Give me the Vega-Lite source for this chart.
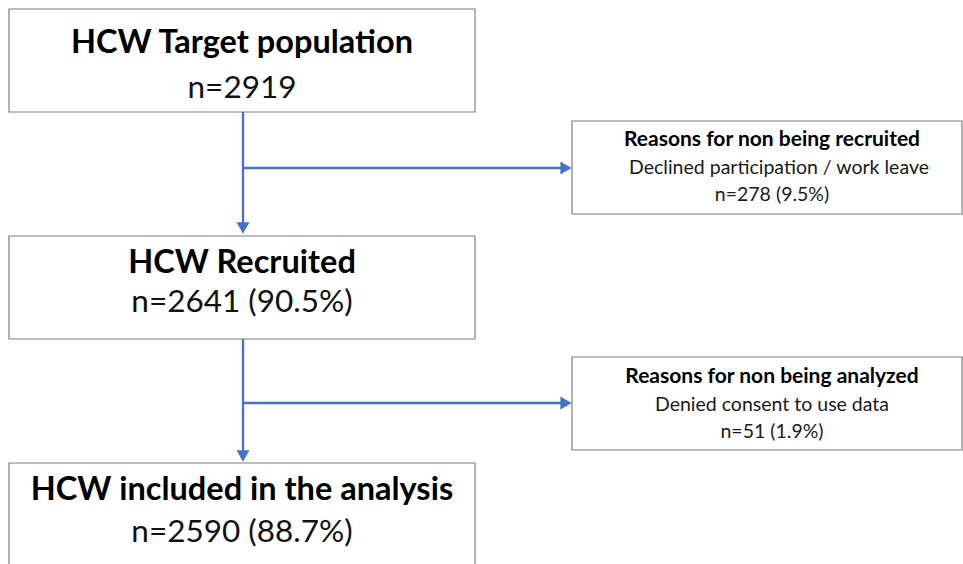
{
  "$schema": "https://vega.github.io/schema/vega-lite/v6.json",
  "width": 963,
  "height": 564,
  "autosize": {"type": "fit", "contains": "padding"},
  "padding": 0,
  "background": "white",
  "config": {"view": {"stroke": null}},
  "datasets": {
    "boxes": [
      {"name": "target", "x1": 9, "x2": 475, "y1": 9, "y2": 112},
      {"name": "recruited", "x1": 9, "x2": 475, "y1": 236, "y2": 339},
      {"name": "analysis", "x1": 9, "x2": 475, "y1": 463, "y2": 600},
      {"name": "notrecruited", "x1": 572, "x2": 962, "y1": 121, "y2": 214},
      {"name": "notanalyzed", "x1": 572, "x2": 962, "y1": 357, "y2": 450}
    ],
    "links": [
      {"x1": 243, "y1": 112, "x2": 243, "y2": 228},
      {"x1": 243, "y1": 168, "x2": 566, "y2": 168},
      {"x1": 243, "y1": 339, "x2": 243, "y2": 456},
      {"x1": 243, "y1": 403, "x2": 566, "y2": 403}
    ],
    "heads": [
      {"x": 243, "y": 228, "dir": "down"},
      {"x": 566, "y": 168, "dir": "right"},
      {"x": 243, "y": 456, "dir": "down"},
      {"x": 566, "y": 403, "dir": "right"}
    ],
    "labels": [
      {"x": 242, "y": 43, "text": "HCW Target population", "kind": "main-title"},
      {"x": 242, "y": 89, "text": "n=2919", "kind": "main-count"},
      {"x": 242, "y": 263, "text": "HCW Recruited", "kind": "main-title"},
      {"x": 242, "y": 303, "text": "n=2641 (90.5%)", "kind": "main-count"},
      {"x": 242, "y": 490, "text": "HCW included in the analysis", "kind": "main-title"},
      {"x": 242, "y": 533, "text": "n=2590 (88.7%)", "kind": "main-count"},
      {"x": 772, "y": 140, "text": "Reasons for non being recruited", "kind": "side-title"},
      {"x": 779, "y": 168, "text": "Declined participation / work leave", "kind": "side-text"},
      {"x": 772, "y": 195, "text": "n=278 (9.5%)", "kind": "side-text"},
      {"x": 772, "y": 377, "text": "Reasons for non being analyzed", "kind": "side-title"},
      {"x": 772, "y": 405, "text": "Denied consent to use data", "kind": "side-text"},
      {"x": 772, "y": 432, "text": "n=51 (1.9%)", "kind": "side-text"}
    ]
  },
  "layer": [
    {
      "data": {"name": "boxes"},
      "mark": {"type": "rect", "fill": "white", "stroke": "#7f7f7f", "strokeWidth": 1.2, "clip": true},
      "encoding": {
        "x": {"field": "x1", "type": "quantitative", "scale": {"domain": [0, 963], "nice": false, "zero": false}, "axis": null},
        "x2": {"field": "x2"},
        "y": {"field": "y1", "type": "quantitative", "scale": {"domain": [0, 564], "nice": false, "zero": false, "reverse": true}, "axis": null},
        "y2": {"field": "y2"}
      }
    },
    {
      "data": {"name": "links"},
      "mark": {"type": "rule", "color": "#4472C4", "strokeWidth": 2.3},
      "encoding": {
        "x": {"field": "x1", "type": "quantitative"},
        "x2": {"field": "x2"},
        "y": {"field": "y1", "type": "quantitative"},
        "y2": {"field": "y2"}
      }
    },
    {
      "data": {"name": "heads"},
      "mark": {"type": "point", "filled": true, "color": "#4472C4", "opacity": 1, "size": 170},
      "encoding": {
        "x": {"field": "x", "type": "quantitative"},
        "y": {"field": "y", "type": "quantitative"},
        "shape": {"field": "dir", "type": "nominal", "scale": {"domain": ["down", "right"], "range": ["triangle-down", "triangle-right"]}, "legend": null}
      }
    },
    {
      "data": {"name": "labels"},
      "transform": [{"filter": "datum.kind === 'main-title'"}],
      "mark": {"type": "text", "font": "Lato", "fontWeight": "bold", "fontSize": 32.5, "color": "#000000", "align": "center", "baseline": "middle"},
      "encoding": {
        "x": {"field": "x", "type": "quantitative"},
        "y": {"field": "y", "type": "quantitative"},
        "text": {"field": "text"}
      }
    },
    {
      "data": {"name": "labels"},
      "transform": [{"filter": "datum.kind === 'main-count'"}],
      "mark": {"type": "text", "font": "Lato", "fontSize": 31.5, "color": "#111111", "align": "center", "baseline": "middle"},
      "encoding": {
        "x": {"field": "x", "type": "quantitative"},
        "y": {"field": "y", "type": "quantitative"},
        "text": {"field": "text"}
      }
    },
    {
      "data": {"name": "labels"},
      "transform": [{"filter": "datum.kind === 'side-title'"}],
      "mark": {"type": "text", "font": "Lato", "fontWeight": "bold", "fontSize": 21, "color": "#000000", "align": "center", "baseline": "middle"},
      "encoding": {
        "x": {"field": "x", "type": "quantitative"},
        "y": {"field": "y", "type": "quantitative"},
        "text": {"field": "text"}
      }
    },
    {
      "data": {"name": "labels"},
      "transform": [{"filter": "datum.kind === 'side-text'"}],
      "mark": {"type": "text", "font": "Lato", "fontSize": 19.5, "color": "#1a1a1a", "align": "center", "baseline": "middle"},
      "encoding": {
        "x": {"field": "x", "type": "quantitative"},
        "y": {"field": "y", "type": "quantitative"},
        "text": {"field": "text"}
      }
    }
  ]
}
